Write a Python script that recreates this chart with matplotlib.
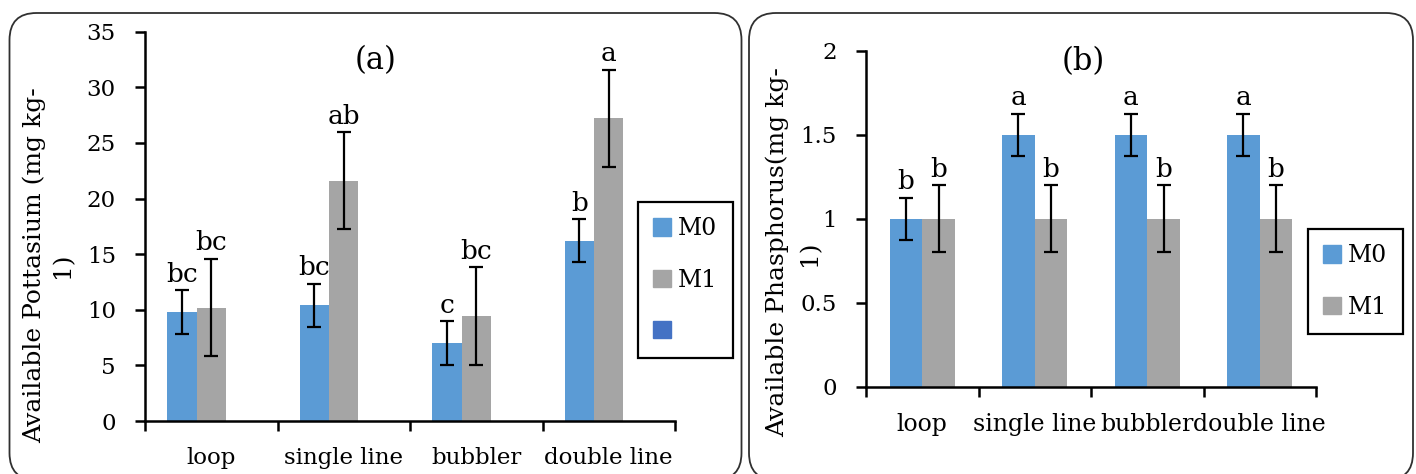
import numpy as np
import matplotlib.pyplot as plt
from matplotlib.patches import FancyBboxPatch, Patch

plt.rcParams['font.family'] = 'DejaVu Serif'

# data
methods = ['loop', 'single line', 'bubbler', 'double line']

pot_m0 = [9.8, 10.4, 7.0, 16.2]
pot_m1 = [10.2, 21.6, 9.45, 27.2]
pot_m0_err = [1.95, 1.95, 1.95, 1.95]
pot_m1_err = [4.4, 4.35, 4.4, 4.4]
pot_m0_lab = ['bc', 'bc', 'c', 'b']
pot_m1_lab = ['bc', 'ab', 'bc', 'a']

pho_m0 = [1.0, 1.5, 1.5, 1.5]
pho_m1 = [1.0, 1.0, 1.0, 1.0]
pho_m0_err = [0.125, 0.125, 0.125, 0.125]
pho_m1_err = [0.2, 0.2, 0.2, 0.2]
pho_m0_lab = ['b', 'a', 'a', 'a']
pho_m1_lab = ['b', 'b', 'b', 'b']

c_m0 = '#5B9BD5'
c_m1 = '#A5A5A5'
c_m2 = '#4472C4'

W, H = 1416, 474
fig = plt.figure(figsize=(W / 100, H / 100), dpi=100)


def px(x0, y0, x1, y1):
    # pixel box (top-left origin) -> figure fraction rect
    return [x0 / W, 1 - y1 / H, (x1 - x0) / W, (y1 - y0) / H]


def panel_box(x0, x1):
    # rounded frame around each panel, in inches
    r = FancyBboxPatch((x0 / 100, -0.06), (x1 - x0) / 100, 4.67,
                       boxstyle='round,pad=0,rounding_size=0.27',
                       transform=fig.dpi_scale_trans, fill=False,
                       edgecolor='#303030', linewidth=1.3)
    fig.add_artist(r)


def style_axes(ax, ymax, yticks, xsize):
    x = np.arange(len(methods))
    ax.set_xlim(-0.5, len(methods) - 0.5)
    ax.set_ylim(0, ymax)
    ax.set_yticks(yticks)
    for s in ['top', 'right']:
        ax.spines[s].set_visible(False)
    for s in ['left', 'bottom']:
        ax.spines[s].set_linewidth(1.8)
    ax.set_xticks(np.arange(len(methods) + 1) - 0.5)
    ax.set_xticklabels([])
    ax.set_xticks(x, minor=True)
    ax.set_xticklabels(methods, minor=True)
    ax.tick_params(axis='x', which='major', direction='out', length=7, width=1.8)
    ax.tick_params(axis='x', which='minor', length=0, pad=19, labelsize=xsize)
    ax.tick_params(axis='y', direction='out', length=7, width=1.8, pad=14, labelsize=16.5)


def letters(ax, xs, vals, errs, labs):
    for xi, v, e, t in zip(xs, vals, errs, labs):
        ax.annotate(t, (xi, v + e), xytext=(0, 6), textcoords='offset points',
                    ha='center', va='baseline', fontsize=19)


ekw = dict(fmt='none', ecolor='black', elinewidth=1.6, capsize=5, capthick=1.6)

# (a) potassium
ax1 = fig.add_axes(px(145, 31.7, 675, 421))
x = np.arange(len(methods))
w = 0.221
ax1.bar(x - w, pot_m0, w, color=c_m0)
ax1.bar(x, pot_m1, w, color=c_m1)
ax1.errorbar(x - w, pot_m0, yerr=pot_m0_err, **ekw)
ax1.errorbar(x, pot_m1, yerr=pot_m1_err, **ekw)
letters(ax1, x - w, pot_m0, pot_m0_err, pot_m0_lab)
letters(ax1, x, pot_m1, pot_m1_err, pot_m1_lab)
style_axes(ax1, 35, np.arange(0, 36, 5), 16.5)

# (b) phosphorus
ax2 = fig.add_axes(px(866, 50.7, 1316, 386.7))
w2 = 0.289
ax2.bar(x - w2 / 2, pho_m0, w2, color=c_m0)
ax2.bar(x + w2 / 2, pho_m1, w2, color=c_m1)
ax2.errorbar(x - w2 / 2, pho_m0, yerr=pho_m0_err, **ekw)
ax2.errorbar(x + w2 / 2, pho_m1, yerr=pho_m1_err, **ekw)
letters(ax2, x - w2 / 2, pho_m0, pho_m0_err, pho_m0_lab)
letters(ax2, x + w2 / 2, pho_m1, pho_m1_err, pho_m1_lab)
style_axes(ax2, 2, [0, 0.5, 1, 1.5, 2], 17)
ax2.set_yticklabels(['0', '0.5', '1', '1.5', '2'])

# titles and y labels (two lines, placed separately)
fig.text(376 / W, 1 - 61 / H, '(a)', ha='center', va='center', fontsize=22)
fig.text(1083 / W, 1 - 62 / H, '(b)', ha='center', va='center', fontsize=22)
fig.text(34 / W, 1 - 265 / H, 'Available Pottasium (mg kg-', rotation=90,
         ha='center', va='center', fontsize=18)
fig.text(63 / W, 1 - 265 / H, '1)', rotation=90, ha='center', va='center', fontsize=18)
fig.text(777 / W, 1 - 252 / H, 'Available Phasphorus(mg kg-', rotation=90,
         ha='center', va='center', fontsize=18)
fig.text(810 / W, 1 - 253 / H, '1)', rotation=90, ha='center', va='center', fontsize=18)

# legends
leg_kw = dict(loc='upper left', bbox_transform=fig.transFigure, borderaxespad=0,
              fancybox=False, framealpha=1, edgecolor='black', fontsize=17,
              handlelength=0.75, handleheight=0.75, handletextpad=0.3,
              labelspacing=1.2, borderpad=0.65)
h1 = [Patch(color=c_m0), Patch(color=c_m1), Patch(color=c_m2)]
l1 = fig.legend(h1, ['M0', 'M1', ' '], bbox_to_anchor=(638 / W, 1 - 202 / H), **leg_kw)
l1.get_frame().set_linewidth(1.6)
h2 = [Patch(color=c_m0), Patch(color=c_m1)]
l2 = fig.legend(h2, ['M0', 'M1'], bbox_to_anchor=(1308 / W, 1 - 229 / H), **leg_kw)
l2.get_frame().set_linewidth(1.6)

panel_box(9.5, 741.5)
panel_box(749, 1413)

fig.savefig('out.png', dpi=100)
